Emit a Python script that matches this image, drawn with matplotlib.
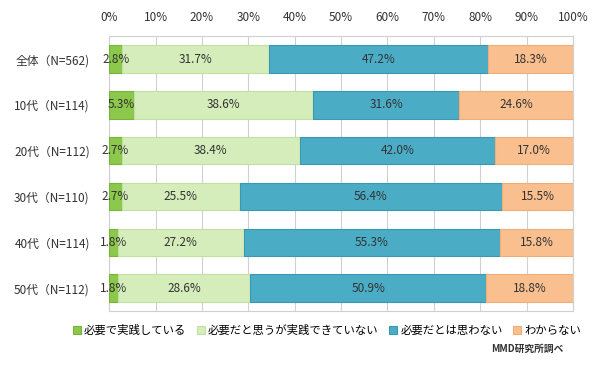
import matplotlib
matplotlib.use('Agg')
import matplotlib.pyplot as plt
import numpy as np

plt.rcParams['font.family'] = ['Noto Sans CJK JP', 'DejaVu Sans']

groups = ['全体（N=562)', '10代（N=114)', '20代（N=112)', '30代（N=110)', '40代（N=114)', '50代（N=112)']
series = ['必要で実践している', '必要だと思うが実践できていない', '必要だとは思わない', 'わからない']
values = [
    [2.8, 5.3, 2.7, 2.7, 1.8, 1.8],
    [31.7, 38.6, 38.4, 25.5, 27.2, 28.6],
    [47.2, 31.6, 42.0, 56.4, 55.3, 50.9],
    [18.3, 24.6, 17.0, 15.5, 15.8, 18.8],
]
colors = ['#8cc84b', '#d5edbb', '#4bacc6', '#f9bf8f']
edges = ['#7ab33a', '#c3e0a3', '#3a98b2', '#f0ad78']

fig = plt.figure(figsize=(6, 3.73), dpi=100)
ax = fig.add_axes([0.182, 0.166, 0.773, 0.737])

y = np.arange(len(groups))
left = np.zeros(len(groups))
for vals, c, ec, name in zip(values, colors, edges, series):
    vals = np.array(vals)
    ax.barh(y, vals, left=left, height=0.6, color=c, edgecolor=ec, linewidth=0.8, label=name, zorder=3)
    for yi, l, v in zip(y, left, vals):
        ax.text(l + v / 2, yi, f'{v:.1f}%', ha='center', va='center', fontsize=8.5, color='#333333', zorder=4)
    left += vals

ax.set_xlim(0, 100)
ax.set_ylim(len(groups) - 0.5, -0.5)
ax.set_xticks(np.arange(0, 101, 10))
ax.set_xticklabels([f'{t}%' for t in range(0, 101, 10)], fontsize=8.5, color='#333333')
ax.xaxis.tick_top()
ax.set_yticks(y)
ax.set_yticklabels(groups, fontsize=8.5, color='#333333')
ax.tick_params(axis='x', length=0, pad=9)
ax.tick_params(axis='y', length=0, pad=14)
ax.grid(axis='x', color='#d0d0d0', linewidth=0.8, zorder=0)
for s in ax.spines.values():
    s.set_color('#d0d0d0')
    s.set_linewidth(0.8)

fig.legend(loc='center', bbox_to_anchor=(0.545, 0.115), ncol=4, fontsize=8.2, frameon=False,
           handlelength=0.7, handleheight=0.7, handletextpad=0.3, columnspacing=0.9)
fig.text(0.94, 0.065, 'MMD研究所調べ', fontsize=7, fontweight='bold', ha='right', va='center', color='#333333')

fig.savefig('out.png', dpi=100)
